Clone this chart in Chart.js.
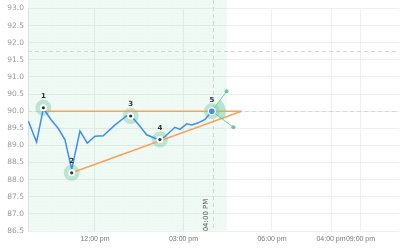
<!DOCTYPE html>
<html>
<head>
<meta charset="utf-8">
<script src="https://cdn.jsdelivr.net/npm/chart.js@4.4.1/dist/chart.umd.min.js"></script>
<style>
  html, body { margin: 0; padding: 0; background: #fff; overflow: hidden; }
  canvas { display: block; }
</style>
</head>
<body>
<canvas id="priceChart" width="400" height="248"></canvas>
<script>
// price series (x in hours of the day)
const timeHours = [9.74, 10.02, 10.25, 10.51, 10.75, 10.98, 11.21, 11.49, 11.74, 12.0, 12.28, 12.68, 13.07, 13.21, 13.53, 13.75, 14.03, 14.2, 14.37, 14.71, 14.88, 15.11, 15.28, 15.5, 15.73, 15.96];
const prices = [89.71, 89.10, 90.08, 89.75, 89.5, 89.17, 88.3, 89.42, 89.07, 89.27, 89.28, 89.6, 89.86, 89.88, 89.55, 89.31, 89.21, 89.15, 89.26, 89.53, 89.47, 89.63, 89.6, 89.66, 89.76, 90.0];

// pattern points 1..5
const markerLabels = ["1", "2", "3", "4", "5"];
const markerHours = [10.25, 11.21, 13.21, 14.2, 15.96];
const markerValues = [90.1, 88.2, 89.86, 89.17, 90.0];

// triangle lines
const topLineHours = [10.25, 16.97];
const topLineValues = [90.0, 90.0];
const bottomLineHours = [11.21, 16.97];
const bottomLineValues = [88.2, 90.0];

// handles on point 5
const handleHours = [16.46, 16.69];
const handleValues = [90.58, 89.53];

// reference lines
const dashedLevels = [91.76, 90.0];
const nowHour = 16.0;
const nowLabel = "04:00 PM";
const shadeEndHour = 16.47;

const xTickValues = [12, 15, 18, 20, 21];
const xTickLabels = ["12:00 pm", "03:00 pm", "06:00 pm", "04:00 pm", "09:00 pm"];

function toPoints(xs, ys) {
  return xs.map((x, i) => ({ x: x, y: ys[i] }));
}

const overlayPlugin = {
  id: "overlay",
  beforeDatasetsDraw(chart) {
    const { ctx, chartArea, scales } = chart;
    const x = scales.x, y = scales.y;
    ctx.save();
    // shaded session
    const xe = x.getPixelForValue(shadeEndHour);
    ctx.fillStyle = "rgba(120, 210, 165, 0.11)";
    ctx.fillRect(chartArea.left, 0, xe - chartArea.left, chartArea.bottom);
    ctx.fillStyle = "rgba(120, 200, 160, 0.06)";
    for (let px = chartArea.left + 1; px < xe; px += 3) {
      for (let py = 1; py < chartArea.bottom; py += 3) {
        ctx.fillRect(px, py, 1, 1);
      }
    }
    // dashed lines
    ctx.strokeStyle = "#d6d6d6";
    ctx.lineWidth = 1;
    ctx.setLineDash([4, 3]);
    dashedLevels.forEach(v => {
      const py = Math.round(y.getPixelForValue(v)) + 0.5;
      ctx.beginPath();
      ctx.moveTo(chartArea.left, py);
      ctx.lineTo(chartArea.right, py);
      ctx.stroke();
    });
    const vx = Math.round(x.getPixelForValue(nowHour)) + 0.5;
    ctx.beginPath();
    ctx.moveTo(vx, 0);
    ctx.lineTo(vx, chartArea.bottom);
    ctx.stroke();
    ctx.setLineDash([]);
    // rotated time label
    ctx.translate(vx - 7, chartArea.bottom - 16);
    ctx.rotate(-Math.PI / 2);
    ctx.fillStyle = "#555";
    ctx.font = "7px 'DejaVu Sans'";
    ctx.textAlign = "center";
    ctx.textBaseline = "middle";
    ctx.fillText(nowLabel, 0, 0);
    ctx.restore();
  },
  afterDatasetsDraw(chart) {
    const { ctx, scales } = chart;
    const x = scales.x, y = scales.y;
    ctx.save();
    // wedge + handles on last point
    const cx = x.getPixelForValue(markerHours[4]);
    const cy = y.getPixelForValue(markerValues[4]);
    const hx = handleHours.map(h => x.getPixelForValue(h));
    const hy = handleValues.map(v => y.getPixelForValue(v));
    const a0 = Math.atan2(hy[0] - cy, hx[0] - cx);
    const a1 = Math.atan2(hy[1] - cy, hx[1] - cx);
    ctx.fillStyle = "rgba(110, 205, 160, 0.45)";
    ctx.beginPath();
    ctx.moveTo(cx, cy);
    ctx.arc(cx, cy, 14, a0, a1);
    ctx.closePath();
    ctx.fill();
    ctx.strokeStyle = "rgba(90, 195, 145, 0.8)";
    ctx.lineWidth = 1;
    for (let i = 0; i < 2; i++) {
      ctx.beginPath();
      ctx.moveTo(cx, cy);
      ctx.lineTo(hx[i], hy[i]);
      ctx.stroke();
      ctx.fillStyle = "rgba(90, 195, 145, 0.9)";
      ctx.beginPath();
      ctx.arc(hx[i], hy[i], 2, 0, Math.PI * 2);
      ctx.fill();
    }
    // centre of point 5 redrawn on top
    ctx.fillStyle = "#fff";
    ctx.beginPath();
    ctx.arc(cx, cy, 4, 0, Math.PI * 2);
    ctx.fill();
    ctx.fillStyle = "#3d8ef0";
    ctx.beginPath();
    ctx.arc(cx, cy, 2.8, 0, Math.PI * 2);
    ctx.fill();
    // number labels
    ctx.fillStyle = "#333";
    ctx.font = "bold 7px 'DejaVu Sans'";
    ctx.textAlign = "center";
    ctx.textBaseline = "bottom";
    markerLabels.forEach((lbl, i) => {
      const px = x.getPixelForValue(markerHours[i]);
      const py = y.getPixelForValue(markerValues[i]);
      ctx.fillText(lbl, px, py - 8);
    });
    ctx.restore();
  }
};

const markerPoints = toPoints(markerHours, markerValues);
const ctx = document.getElementById("priceChart").getContext("2d");

new Chart(ctx, {
  type: "scatter",
  data: {
    datasets: [
      {
        data: markerPoints,
        pointRadius: 8,
        pointBackgroundColor: "rgba(110, 205, 160, 0.42)",
        pointBorderWidth: 0,
        order: 5
      },
      {
        data: toPoints(topLineHours, topLineValues),
        showLine: true,
        borderColor: "#f6a25e",
        borderWidth: 1.5,
        pointRadius: 0,
        order: 4
      },
      {
        data: toPoints(bottomLineHours, bottomLineValues),
        showLine: true,
        borderColor: "#f6a25e",
        borderWidth: 1.5,
        pointRadius: 0,
        order: 4
      },
      {
        data: toPoints(timeHours, prices),
        showLine: true,
        borderColor: "#3d8ef0",
        borderWidth: 1.5,
        pointRadius: 0,
        tension: 0,
        order: 3
      },
      {
        data: markerPoints.slice(0, 4),
        pointRadius: 3.5,
        pointBackgroundColor: "#fff",
        pointBorderWidth: 0,
        order: 2
      },
      {
        data: markerPoints.slice(0, 4),
        pointRadius: 1.6,
        pointBackgroundColor: "#333",
        pointBorderWidth: 0,
        order: 1
      }
    ]
  },
  options: {
    responsive: false,
    animation: false,
    layout: { autoPadding: false, padding: { top: 1, right: 1, left: 0, bottom: 0 } },
    plugins: {
      legend: { display: false },
      tooltip: { enabled: false }
    },
    scales: {
      x: {
        type: "linear",
        min: 9.729,
        max: 22.305,
        afterBuildTicks: (scale) => {
          scale.ticks = xTickValues.map(v => ({ value: v }));
        },
        afterFit: (scale) => { scale.height = 17; },
        ticks: {
          autoSkip: false,
          maxRotation: 0,
          padding: 4,
          color: "#777",
          font: { family: "Liberation Sans", size: 7 },
          callback: (value) => xTickLabels[xTickValues.indexOf(value)]
        },
        grid: { color: "#efefef", drawTicks: false },
        border: { display: false }
      },
      y: {
        min: 86.5,
        max: 93,
        afterFit: (scale) => { scale.width = 28; },
        ticks: {
          stepSize: 0.5,
          padding: 4,
          color: "#999",
          font: { family: "DejaVu Sans", size: 7.5 },
          callback: (v) => v.toFixed(1)
        },
        grid: { color: "#efefef", drawTicks: false },
        border: { display: true, color: "#e6e6e6" }
      }
    }
  },
  plugins: [overlayPlugin]
});
</script>
</body>
</html>
